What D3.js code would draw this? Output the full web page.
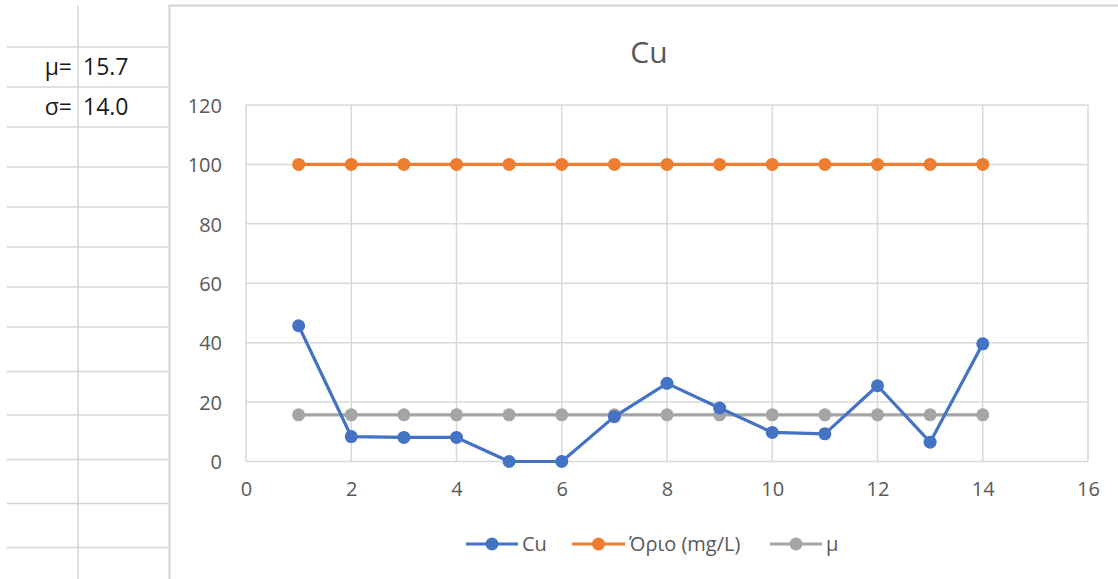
<!DOCTYPE html>
<html>
<head>
<meta charset="utf-8">
<script src="https://cdn.jsdelivr.net/npm/d3@7"></script>
<style>
  html, body { margin: 0; padding: 0; background: #ffffff; }
  svg { display: block; }
  text { font-family: "Open Sans", "Noto Sans", sans-serif; }
</style>
</head>
<body>
<svg id="chart" width="1118" height="579"></svg>
<script>
// Sample numbers (x axis) and measured Cu concentrations
const samples = [1, 2, 3, 4, 5, 6, 7, 8, 9, 10, 11, 12, 13, 14];
const cuValues = [45.7, 8.4, 8.1, 8.1, 0, 0, 15.1, 26.3, 18.0, 9.8, 9.3, 25.5, 6.5, 39.6];
// Regulatory limit and mean, repeated per sample
const limitValues = [100, 100, 100, 100, 100, 100, 100, 100, 100, 100, 100, 100, 100, 100];
const meanValues = [15.7, 15.7, 15.7, 15.7, 15.7, 15.7, 15.7, 15.7, 15.7, 15.7, 15.7, 15.7, 15.7, 15.7];
const seriesNames = ["Cu", "Όριο (mg/L)", "μ"];
const seriesColors = ["#4472C4", "#ED7D31", "#A5A5A5"];
const xTicks = [0, 2, 4, 6, 8, 10, 12, 14, 16];
const yTicks = [0, 20, 40, 60, 80, 100, 120];
const statLabels = ["μ=", "σ="];
const statValues = ["15.7", "14.0"];
const chartTitle = "Cu";

const svg = d3.select("#chart");
const gridGray = "#d9d9d9";
const textGray = "#595959";

// Worksheet cells to the left of the chart
const sheet = svg.append("g");
const rowLines = [47, 87, 127, 167, 207, 247, 287, 327, 371.5, 415, 459.5, 503.5, 547.5];
sheet.selectAll("line.row").data(rowLines).join("line")
  .attr("x1", 7).attr("x2", 170)
  .attr("y1", d => d).attr("y2", d => d)
  .attr("stroke", "#d4d4d4").attr("stroke-width", 1.5);
sheet.append("line")
  .attr("x1", 78).attr("x2", 78).attr("y1", 6).attr("y2", 579)
  .attr("stroke", "#d4d4d4").attr("stroke-width", 1.5);
statLabels.forEach((lab, i) => {
  const yMid = (rowLines[i] + rowLines[i + 1]) / 2;
  sheet.append("text")
    .attr("x", 72).attr("y", yMid).attr("dy", "0.36em")
    .attr("text-anchor", "end")
    .attr("font-size", 23).attr("font-weight", 500).attr("fill", "#1a1a1a")
    .text(lab);
  sheet.append("text")
    .attr("x", 83).attr("y", yMid).attr("dy", "0.36em")
    .attr("font-size", 23).attr("font-weight", 500).attr("fill", "#1a1a1a")
    .text(statValues[i]);
});

// Chart frame
svg.append("path")
  .attr("d", "M169.5,579 V5.5 H1118")
  .attr("fill", "none").attr("stroke", "#d4d4d4").attr("stroke-width", 2);

// Scales
const x = d3.scaleLinear().domain([0, 16]).range([246, 1088]);
const y = d3.scaleLinear().domain([0, 120]).range([461.5, 105]);

// Gridlines
const grid = svg.append("g");
grid.selectAll("line.h").data(yTicks).join("line")
  .attr("x1", x(0)).attr("x2", x(16))
  .attr("y1", d => y(d)).attr("y2", d => y(d))
  .attr("stroke", gridGray).attr("stroke-width", 1.5);
grid.selectAll("line.v").data(xTicks).join("line")
  .attr("x1", d => x(d)).attr("x2", d => x(d))
  .attr("y1", y(0)).attr("y2", y(120))
  .attr("stroke", gridGray).attr("stroke-width", 1.5);

// Axes (labels only; lines come from the grid)
const yAxis = svg.append("g")
  .attr("transform", `translate(${x(0) - 24},0)`)
  .call(d3.axisLeft(y).tickValues(yTicks).tickSize(0).tickPadding(0));
const xAxis = svg.append("g")
  .attr("transform", `translate(0,${y(0) + 19})`)
  .call(d3.axisBottom(x).tickValues(xTicks).tickSize(0).tickPadding(0));
[yAxis, xAxis].forEach(ax => {
  ax.select(".domain").remove();
  ax.selectAll("text")
    .attr("font-family", "'Open Sans', sans-serif")
    .attr("font-size", 20).attr("fill", textGray);
});
yAxis.selectAll("text").attr("dy", "0.36em");
xAxis.selectAll("text").attr("dy", "0.78em");

// Title
svg.append("text")
  .attr("x", 649).attr("y", 52).attr("dy", "0.36em")
  .attr("text-anchor", "middle")
  .attr("font-size", 30).attr("fill", textGray)
  .text(chartTitle);

// Series lines and markers
const seriesData = [cuValues, limitValues, meanValues];
const line = d3.line().x(d => x(d.s)).y(d => y(d.v));
const drawOrder = [1, 2, 0];
drawOrder.forEach(k => {
  const pts = samples.map((s, i) => ({ s, v: seriesData[k][i] }));
  const g = svg.append("g");
  g.append("path").datum(pts)
    .attr("d", line)
    .attr("fill", "none")
    .attr("stroke", seriesColors[k])
    .attr("stroke-width", 3.2)
    .attr("stroke-linejoin", "round");
  g.selectAll("circle").data(pts).join("circle")
    .attr("cx", d => x(d.s)).attr("cy", d => y(d.v))
    .attr("r", 6.5)
    .attr("fill", seriesColors[k]);
});

// Legend
const legendY = 544;
const legendItems = [
  { x0: 466, x1: 518, tx: 522 },
  { x0: 572, x1: 625, tx: 629 },
  { x0: 770, x1: 822, tx: 826 }
];
legendItems.forEach((it, k) => {
  const g = svg.append("g");
  g.append("line")
    .attr("x1", it.x0).attr("x2", it.x1)
    .attr("y1", legendY).attr("y2", legendY)
    .attr("stroke", seriesColors[k]).attr("stroke-width", 3.2);
  g.append("circle")
    .attr("cx", (it.x0 + it.x1) / 2).attr("cy", legendY)
    .attr("r", 6.5).attr("fill", seriesColors[k]);
  g.append("text")
    .attr("x", it.tx).attr("y", legendY).attr("dy", "0.36em")
    .attr("font-size", 20).attr("fill", textGray)
    .text(seriesNames[k]);
});
</script>
</body>
</html>
